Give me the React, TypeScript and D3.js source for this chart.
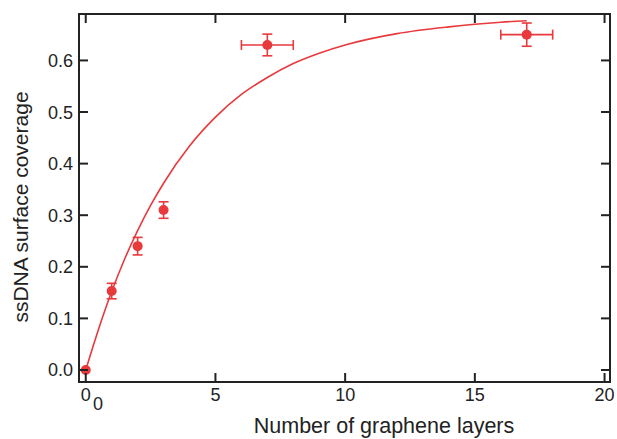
import React from "react";
import * as d3 from "d3";

const layers = [0, 1, 2, 3, 7, 17];
const coverage = [0, 0.153, 0.24, 0.31, 0.63, 0.65];
const coverageErr = [0, 0.015, 0.017, 0.016, 0.021, 0.0225];
const layersErr = [0, 0, 0, 0, 1, 1];

const fitLayers = [0, 0.5, 1, 1.5, 2, 2.5, 3, 4, 5, 6, 7, 8, 9, 10, 12, 14, 15, 16, 17];
const fitCoverage = [0, 0.08, 0.152, 0.215, 0.27, 0.319, 0.362, 0.434, 0.49, 0.534, 0.567, 0.594, 0.614, 0.63, 0.652, 0.665, 0.67, 0.674, 0.677];

const xTicks = [0, 5, 10, 15, 20];
const yTicks = [0, 0.1, 0.2, 0.3, 0.4, 0.5, 0.6];

const W = 617;
const H = 439;
const RED = "#e8393c";
const INK = "#222";
const FONT = "Liberation Sans, Arial, Helvetica, sans-serif";

export default function App() {
  const x = d3.scaleLinear().domain([-0.26, 20.21]).range([79, 610]);
  const y = d3.scaleLinear().domain([-0.0233, 0.69]).range([382, 14]);
  const [x0, x1] = x.range();
  const [y0, y1] = y.range();
  const tickLen = 9;
  const cap = 5;

  const line = d3
    .line<number>()
    .x((_, i) => x(fitLayers[i]))
    .y((d) => y(d))
    .curve(d3.curveMonotoneX);

  return (
    <div style={{ position: "fixed", left: 0, top: 0 }}>
      <svg width={W} height={H} style={{ display: "block", background: "#fff" }}>
        {/* fit curve */}
        <path d={line(fitCoverage) || ""} fill="none" stroke={RED} strokeWidth={1.6} />

        {/* error bars and points */}
        {layers.map((lx, i) => {
          const cx = x(lx);
          const cy = y(coverage[i]);
          const ey = coverageErr[i];
          const ex = layersErr[i];
          return (
            <g key={i} stroke={RED} strokeWidth={1.6} fill="none">
              {ey > 0 && (
                <>
                  <line x1={cx} x2={cx} y1={y(coverage[i] - ey)} y2={y(coverage[i] + ey)} />
                  <line x1={cx - cap} x2={cx + cap} y1={y(coverage[i] - ey)} y2={y(coverage[i] - ey)} />
                  <line x1={cx - cap} x2={cx + cap} y1={y(coverage[i] + ey)} y2={y(coverage[i] + ey)} />
                </>
              )}
              {ex > 0 && (
                <>
                  <line x1={x(lx - ex)} x2={x(lx + ex)} y1={cy} y2={cy} />
                  <line x1={x(lx - ex)} x2={x(lx - ex)} y1={cy - cap} y2={cy + cap} />
                  <line x1={x(lx + ex)} x2={x(lx + ex)} y1={cy - cap} y2={cy + cap} />
                </>
              )}
              <circle cx={cx} cy={cy} r={5} fill={RED} stroke="none" />
            </g>
          );
        })}

        {/* frame */}
        <rect x={x0} y={y1} width={x1 - x0} height={y0 - y1} fill="none" stroke={INK} strokeWidth={2} />

        {/* x ticks top & bottom */}
        {xTicks.map((t) => (
          <g key={"xt" + t} stroke={INK} strokeWidth={2}>
            <line x1={x(t)} x2={x(t)} y1={y0} y2={y0 - tickLen} />
            <line x1={x(t)} x2={x(t)} y1={y1} y2={y1 + tickLen} />
          </g>
        ))}
        {/* y ticks left & right */}
        {yTicks.map((t) => (
          <g key={"yt" + t} stroke={INK} strokeWidth={2}>
            <line x1={x0} x2={x0 + tickLen} y1={y(t)} y2={y(t)} />
            <line x1={x1} x2={x1 - tickLen} y1={y(t)} y2={y(t)} />
          </g>
        ))}

        {/* tick labels */}
        {xTicks.map((t) => (
          <text key={"xl" + t} x={x(t)} y={401} textAnchor="middle" fontFamily={FONT} fontSize={18} fill={INK}>
            {String(t)}
          </text>
        ))}
        <text x={98} y={410} textAnchor="middle" fontFamily={FONT} fontSize={18} fill={INK}>
          0
        </text>
        {yTicks.map((t) => (
          <text
            key={"yl" + t}
            x={73}
            y={y(t)}
            dy="0.36em"
            textAnchor="end"
            fontFamily={FONT}
            fontSize={18}
            fill={INK}
          >
            {d3.format(".1f")(t)}
          </text>
        ))}

        {/* axis titles */}
        <text x={384} y={433} textAnchor="middle" fontFamily={FONT} fontSize={21.5} fill={INK}>
          Number of graphene layers
        </text>
        <text
          transform="translate(28,207) rotate(-90)"
          textAnchor="middle"
          fontFamily={FONT}
          fontSize={21}
          fill={INK}
        >
          ssDNA surface coverage
        </text>
      </svg>
    </div>
  );
}
